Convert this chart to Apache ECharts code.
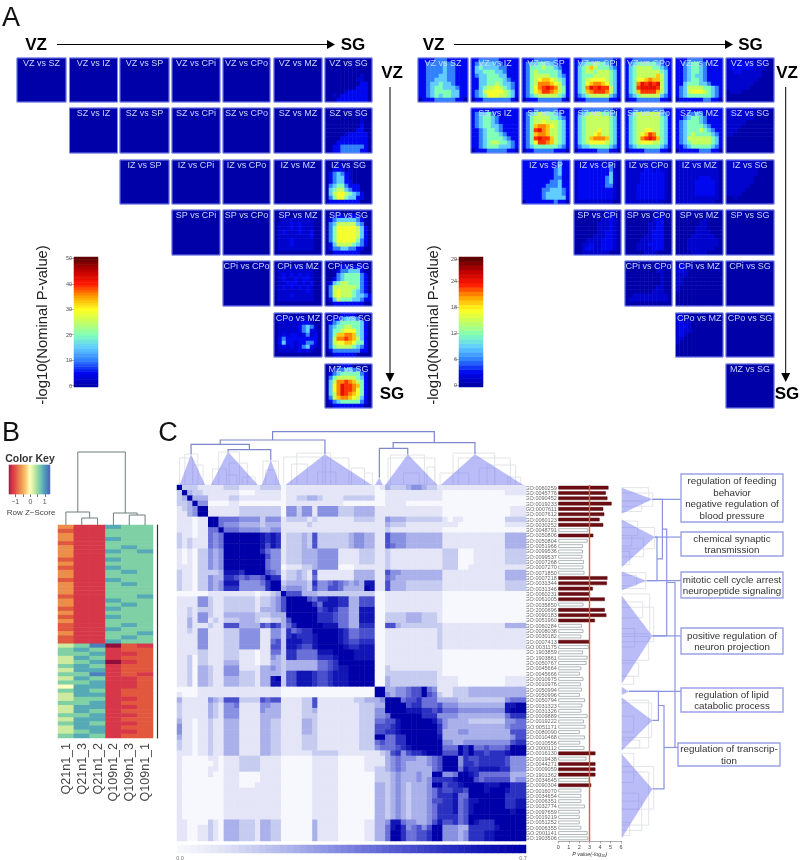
<!DOCTYPE html>
<html><head><meta charset="utf-8">
<style>html,body{margin:0;padding:0;background:#fff}#c{width:800px;height:860px;filter:blur(0.55px)}</style>
<script src="https://cdn.jsdelivr.net/npm/echarts@6/dist/echarts.min.js"></script>
</head><body><div id="c"></div>
<script>
// ---------- DATA ----------
const regions = ['VZ','SZ','IZ','SP','CPi','CPo','MZ','SG'];
const scaleTicksLeft = [0,10,20,30,40,50];
const scaleTicksRight = [0,6,12,18,24,29];
// RRHO panels: rows of colour-scale codes ('+' = faint); pairs not listed are flat navy.
const panelsLeft = {
 'VZ vs SG':['000000000000','000000000000','000000000000','000000000000','000000000+00','00000000++00','000000000110','000000001110','00000+111110','00+011111110','000111111110'],
 'SZ vs SG':['000000000000','000000000000','000000000+00','000000000+00','000000000100','000000001100','00000+111110','000011111110','000111111110','001122222210','001122222110'],
 'IZ vs SG':['000000000000','00++++000000','001110+00000','012321+00000','012331+00000','012331100000','023442111000','034553211000','035665432100','024664331100','011111111000'],
 'SP vs MZ':['000000000000','000000000000','00++++++++00','0+++1+1+++00','0+++1+1+++00','0+1+++1++100','0++++++++100','0+++1+++++00','0+++1+++++00','0+++++++++00','000000000000'],
 'SP vs SG':['000000000000','001111111000','012333332100','023555553200','024666665310','024666665310','024666665310','024666664210','013555543210','012233221100','001111111000'],
 'CPi vs MZ':['000000000000','00+++++++000','0+++++++++00','0+1+1+1+1+00','0+1++1+11+00','0++111+1+100','0+1+1+1+1+00','0+++++++1+00','0+++1+++++00','0+++++++++00','000000000000'],
 'CPi vs SG':['000000000000','000011111100','000122333100','000234444210','001234444210','013455444210','025555554210','025655543210','025655543321','013544433211','001111111100'],
 'CPo vs MZ':['000000000000','0+++++++++00','0++++++11+00','0+++++1232+0','0+++++1231+0','0+1+11+12+10','012111111110','01311+112210','0+1+1+1231+0','0+++++1+1+00','000000000000'],
 'CPo vs SG':['000011110000','001123332100','012344444310','023445544310','024456664310','024778874310','025889875310','025667764410','024555543210','012222222110','001111110000'],
 'MZ vs SG':['000011100000','001223322100','012344444210','024555554310','035889875410','0368a9987410','0368a9986410','0358a9876410','025788765310','012344444210','001111111100']
};
const panelsRight = {
 'VZ vs SZ':['111122211111','112222322111','112222322111','112222322111','112223322111','112233322111','112334332111','112344333211','112344443311','112343443311','011122222110'],
 'VZ vs IZ':['112222211111','123333221111','134333322111','133444332111','123344433111','113344443211','113344543321','113455654321','123566665431','123466655431','011222222210'],
 'VZ vs SP':['111222222111','123344332111','124445443211','124544444311','124555544321','124567765431','124588876531','124689a98541','124679987541','123455555431','011122222210'],
 'VZ vs CPi':['112222222211','123445443211','134575444321','134554555431','134445555431','134566665431','134678876431','1348a9a99531','134789998531','123455555321','011222222110'],
 'VZ vs CPo':['112222222211','123444443211','134555544321','134555555431','134555557531','134667877531','1348a9a9a531','1349aaaa9531','134799997531','123455555321','011222222110'],
 'VZ vs MZ':['111222211111','112344221111','112344321111','112344321111','112343321111','112344321111','113444332111','123555544321','123566654321','123444444321','011111122110'],
 'VZ vs SG':['++++++++++00','+111111+++00','+111111+++00','++11+++++000','+++++++++000','++++++++0000','+++++++00000','++++++000000','0+++00000000','000000000000','000000000000'],
 'SZ vs IZ':['111111111111','123342111111','123443211111','123443211111','123443321111','112344321111','112344432111','112344443211','112345544321','112344433321','011122222110'],
 'SZ vs SP':['111222222111','123455443211','124555544321','124556555431','124788765431','1249a8755431','124788755431','1249a9975431','124699875431','123444444321','011222221110'],
 'SZ vs CPi':['112222222211','123455544321','134555555431','134555555431','134555555431','134555655431','134556755431','134578887431','134566665431','123344444321','011111222110'],
 'SZ vs CPo':['112222222211','124555555321','134555555431','134555555431','134555555431','134556655431','134567985431','134589a97431','134566655431','123444444321','011112222110'],
 'SZ vs MZ':['111111111111','111223211111','112344321111','123444321111','123444432111','123444543211','123454444321','123555555431','123455555431','112344444321','011111222110'],
 'SZ vs SG':['++++++++0000','+11+++++0000','+++++++00000','+++++0000000','++++00000000','+++000000000','++0000000000','000000000000','000000000000','000000000000','000000000000'],
 'IZ vs SP':['111111111211','111111111311','111111112311','111111112311','111111112211','111111122311','111111222311','111112233321','111112333321','111112333331','011111112110'],
 'IZ vs CPi':['+++++++++1+0','+111111112+0','+111111112+0','+111111113+0','+111111123+0','+111111123+0','+111111122+0','+111111111+0','+111111111+0','+111111111+0','++++++++++00'],
 'IZ vs CPo':['+++++++++++0','++++++++1++0','+++++11+1++0','++++111111+0','++++111111+0','++++111111+0','+++1111111+0','+++1111111+0','+++1111111+0','+++1111111+0','++++++++++00'],
 'IZ vs MZ':['+++++++++++0','+++++++++++0','+++++++++++0','+++++++++++0','++++++111++0','+++++11111+0','+++++11111+0','+++++11111+0','+++++11111+0','+++++++++++0','++++++++++00'],
 'IZ vs SG':['+++++++++000','+++++++++000','++++++++0000','++++++++0000','+++++++00000','+++++++00000','++++++000000','+++++0000000','++++00000000','00+000000000','000000000000'],
 'SP vs CPi':['00000000+1+0','00000000+1+0','0000000++1+0','000000+++1+0','000000+++1+0','000000++11+0','00000+++11+0','000++++111+0','00++1++111+0','00+11++111+0','00+++++++000'],
 'SP vs CPo':['00000000++00','00000000+100','0000000+1100','000000++1100','000000++1100','000000+11100','00000++11100','0000+++11100','000+++111100','000++++11100','00000+++0000'],
 'SP vs MZ':['000000000000','000000000000','0000000+0000','000000++0000','00000+++0000','00000++++000','0000++++++00','000++++++++0','000++++++++0','000+++++++00','0000++++0000'],
 'CPi vs CPo':['000000000000','00000000+000','00000000++00','000000000+00','000000000+00','000000000+00','00000000++00','0000000+++00','00+++++++++0','0++++++++++0','000000000000'],
 'CPi vs MZ':['0+0000000000','+1++00000000','+1+000000000','+++000000000','++0000000000','++0000000000','+00000000000','+00000000000','000000000000','000000000000','000000000000'],
 'CPo vs MZ':['++0000000000','+1++00000000','+1++00000000','+11+00000000','+1++00000000','+1+000000000','++0000000000','+00000000000','000000000000','000000000000','000000000000']
};
const panelLevels = {'+':0.05,'0':0,'1':0.1,'2':0.2,'3':0.3,'4':0.4,'5':0.5,'6':0.58,'7':0.66,'8':0.72,'9':0.78,'a':0.84};
// Expression heat map (Z-score code, rows x samples)
const samples = ['Q21n1_1','Q21n1_3','Q21n1_2','Q109n1_2','Q109n1_3','Q109n1_1'];
const expressionRows = [
'311877','211777','311777','311877','211777','311787','311878','311777','211877','311777',
'211877','311787','311777','211877','311787','311777','311777','211778','311877','311787',
'211877','311777','211877','311777','211787','211877','311778','211787','211877',
'679021','787122','778112','687122','678012','787122','688122','779121','687112','778112',
'588112','787122','688122','677112','778122','688112','687122','778112','688122','787112',
'688122','678112','787122'
];
// GO term similarity: upper triangle from the diagonal, code x 0.7/9
const simUpper = [
"9222111112 2211112222 0111111111 1111111101 3222344322 1111111111 1111111",
"932211111 1100011111 0111111111 1111111100 1111111111 1000000000 0001111",
"93331111 2211111111 0112233211 1122222200 1111111111 1000000000 0000000",
"9440000 1100000000 0111111111 1100000000 1111000000 0000000000 0000000",
"991111 1122222222 0442441444 4222333311 1111111111 1000000000 0000111",
"91111 1122222222 0442441444 4222333311 1111111111 1000000000 0000111",
"9955 5544442444 1222212111 1111222211 4333222222 2101100000 0002222",
"954 4433332333 1111121111 1111111111 3222111111 1111000000 0001111",
"95 5544443344 1111111111 1111111111 2111111111 1000000000 0000000",
"9 9999998787 1222326222 2223443311 6444333333 3111111111 1113333",
"9999998787 1222326222 2223443311 6444333333 3111111111 1113333",
"999998687 1222326222 2223443311 6544333333 3111111111 1113333",
"99997544 1222333444 4111122211 2111111111 1222000111 1112222",
"9999644 1222333444 4111122211 2111111111 1222000111 1112222",
"999544 1222333444 4111122211 2111111111 1222000111 1112222",
"99544 0111223444 4000111111 2111111111 1222001111 1111111",
"9654 1223216111 1111333311 6443333333 3111111111 1113333",
"977 1223215111 1111333311 5433333333 3111111111 1113333",
"99 2333327445 6543438811 6333222222 2111111111 1112222",
"9 3444326446 6533339811 6333222222 2111111111 1112222",
"9666333222 2222222200 1111111111 1000000000 0000000",
"999965778 8773366600 1111111111 1000000000 0000000",
"99997588 8773366600 1111111111 1000000000 0000000",
"9999678 7553388800 1111111111 1000000000 0000000",
"999777 6553388800 2222333222 1000000000 0000000",
"99777 6553388800 2222333222 1000000000 0000000",
"9988 8553377700 6632222222 2111111111 1113333",
"999 9875566600 1111111111 2111111111 1111111",
"99 9875566600 1111111111 2111111111 1111111",
"9 9876677700 1111111111 2111111111 1111111",
"9987788800 1111111111 2111111111 1111111",
"999888800 1111111111 1000000000 0000000",
"99888800 1111111111 1000000000 0000000",
"9999900 1111111111 1000000000 0000000",
"999900 2111111111 1000000000 0000000",
"99900 2222222222 1000000000 0000000",
"9900 3222222222 1111000000 0001111",
"900 3222222222 1111000000 0001111",
"99 3344566954 1112223333 3333333",
"9 4344566965 2112223333 3333333",
"9995667555 3333222222 2224555",
"999677555 6444333333 3338899",
"99888776 7555444444 4448999",
"9999777 4444333333 3335777",
"999998 6433332222 2224455",
"99999 7433333333 3334555",
"9999 7333443333 3333666",
"999 8333333333 3333466",
"99 9443344444 4444677",
"9 9555979556 5556999",
"9666979776 7778999",
"999476677 7776444",
"99477677 7776444",
"9587788 8877444",
"998755 5555333",
"99656 6666344",
"9998 8899777",
"998 9998777",
"99 9997777",
"9 9997788",
"9997788",
"999899",
"99999",
"9999",
"999",
"99",
"9"
];
const goTerms = ['GO:0060259','GO:0045776','GO:0090452','GO:0019233','GO:0007611','GO:0007612','GO:0060123','GO:0030252','GO:0048791','GO:0050806','GO:0050804','GO:0051966','GO:0099536','GO:0099537','GO:0007268','GO:0007270','GO:0071850','GO:0007218','GO:0031344','GO:0031346','GO:0060231','GO:0061005','GO:0035850','GO:2000696','GO:0090183','GO:0051960','GO:0060284','GO:0008038','GO:0030182','GO:0007413','GO:0031175','GO:1903859','GO:1903861','GO:0050767','GO:0045664','GO:0045666','GO:0010975','GO:0010976','GO:0050994','GO:0050996','GO:0050794','GO:0031323','GO:0031326','GO:0009889','GO:0019222','GO:0051171','GO:0080090','GO:0010468','GO:0010556','GO:2000112','GO:0016130','GO:0019438','GO:0044271','GO:0009059','GO:1901362','GO:0034645','GO:0090304','GO:0016070','GO:0034654','GO:0006351','GO:0032774','GO:0097659','GO:0019219','GO:0051252','GO:0006355','GO:2001141','GO:1903506'];
const pValues = [4.8,4.55,4.7,5.1,4.3,4.4,3.95,4.3,2.85,3.35,2.8,2.35,2.35,2.3,2.45,2.4,2.5,4.7,4.65,3.3,3.0,4.45,2.4,4.45,4.6,3.5,2.25,2.4,2.2,3.0,2.9,2.35,2.8,2.7,2.2,2.05,2.4,2.15,2.25,2.05,2.55,2.3,2.2,2.8,2.45,2.6,2.05,2.55,2.1,2.5,3.55,2.7,3.55,3.55,3.55,2.95,3.15,2.2,2.2,2.2,2.55,2.05,2.05,2.05,2.2,2.8,2.85];
const pThreshold = 3;
// Dendrogram of GO terms: [leftPos, leftHeight, rightPos, rightHeight, mergeHeight]
const clusterPeaks = [[0.5,2.7,5.4,30.7],[6.5,9.8,15.5,33.3],[16.3,18,19.8,25],[20.8,28.4,37.4,30.7],[38,38.85,39.5,7.3],[40,44.3,50,30.7],[50.6,57.2,66.5,30.7]];
const mainMerges = [[9.8,33.3,18,25,35.3],[2.7,30.7,13.9,35.3,40.7],[8.3,40.7,28.4,30.7,45],[38.85,7.3,44.3,30.7,36.7],[41.5,36.7,57.2,30.7,42.3],[18.35,45,49.4,42.3,53.3]];
const fineMerges = [[0.5,0,3,0,27],[1.5,0,4,0,31],[3,0,5,0,20],[6.8,0,9.5,0,16],[8,0,12,0,33],[10,0,13.5,0,22],[9.5,0,11.5,0,10],[12.5,0,15,0,8],[16.5,0,19.5,0,24],[17,0,19,0,15],[20.5,0,28,0,28],[22,0,25,0,21],[23,0,29.5,0,32],[28.5,0,33,0,27],[27,0,30.5,0,13],[33.5,0,36,0,17],[36,0,37.5,0,12],[40.5,0,49.5,0,27],[41,0,47.5,0,30],[43.5,0,46.5,0,12],[48,0,49.5,0,18],[50.5,0,56,0,12],[53,0,61,0,32],[54,0,64,0,27],[59.5,0,65,0,20],[58,0,61,0,17],[63.5,0,66,0,8]];
const sampleMerges = [[1,0,2,0,7],[0,0,1.5,7,13],[4,0,5,0,10],[3,0,4.5,10,12],[0.75,13,3.75,12,73]];
const boxLinks = [[2.7,30.7,59],[9.8,33.3,59],[18,25,59],[28.4,30.7,59],[38.85,7.3,59.7],[49.4,42.3,56.7]];
const goBoxes = [
 {lines:['regulation of feeding','behavior','negative regulation of','blood pressure'],x:681,y:474,w:102,h:48},
 {lines:['chemical synaptic','transmission'],x:681,y:532,w:102,h:24},
 {lines:['mitotic cell cycle arrest','neuropeptide signaling'],x:681,y:572,w:102,h:26},
 {lines:['positive regulation of','neuron projection'],x:681,y:628,w:102,h:26},
 {lines:['regulation of lipid','catabolic process'],x:681,y:688,w:102,h:24},
 {lines:['regulation of transcrip-','tion'],x:678,y:743,w:102,h:23}
];
// ---------- BUILD ----------
const SANS='"Liberation Sans",Arial,sans-serif';
const rainbow=['#0000a8','#0008f0','#3080ff','#60ccff','#80ffb8','#c4ff60','#ffff20','#ffa000','#ff1800','#c00000','#600000'];
const spectral=['#8f0f3c','#d6384a','#e2583f','#ed8d48','#f9c46e','#ffffbf','#cdeb9f','#80d0a5','#55aab5','#4a80c0','#5e4fa2'];
const blues=['#f7f8fd','#e4e6f7','#c6cbf0','#aab0ea','#8890e2','#6a70d8','#4a50cc','#2a30c0','#1015b4','#0000a8'];
const grids=[],xA=[],yA=[],series=[],gfx=[];
const rbL=[],rbR=[],spec=[],blue=[];
function addGrid(x0,y0,x1,y1,xa,ya){const i=grids.length;grids.push({left:x0,top:y0,width:x1-x0,height:y1-y0,show:false});
 xA.push(Object.assign({gridIndex:i},xa));yA.push(Object.assign({gridIndex:i},ya));return i;}
const cat=(n,inv)=>({type:'category',data:Array.from({length:n},(_,i)=>i),show:false,inverse:!!inv});
const val=(min,max,inv)=>({type:'value',min,max,show:false,inverse:!!inv});
function heat(g,data,list){list.push(series.length);series.push({type:'heatmap',xAxisIndex:g,yAxisIndex:g,data,progressive:0,animation:false,silent:true,itemStyle:{borderWidth:0}});}
function text(t,x,y,o){gfx.push({type:'text',x,y,z:50,silent:true,rotation:(o&&o.rot)||0,style:Object.assign({text:t,font:`${(o&&o.weight)||'normal'} ${(o&&o.size)||10}px ${SANS}`,fill:(o&&o.fill)||'#222',align:(o&&o.align)||'center',verticalAlign:'middle'})});}
function line(x1,y1,x2,y2,c,w){gfx.push({type:'line',z:40,silent:true,shape:{x1,y1,x2,y2},style:{stroke:c,lineWidth:w}});}
function tri(pts,c){gfx.push({type:'polygon',z:40,silent:true,shape:{points:pts},style:{fill:c}});}
// Panel A
const rowY=[[58,102],[108,153],[160,204],[210,255],[261,306],[313,357],[364,408]];
const colL=[[17,66],[69.5,117.5],[120,169],[172,220],[223,270],[274,322],[325,372]];
const colR=[[418,468],[471,519],[522,570],[574,621],[625,672],[675.5,723],[726,774]];
function panelSet(cols,panels,max,list){
 for(let r=0;r<7;r++)for(let c=r;c<7;c++){
  const name=regions[r]+' vs '+regions[c+1];
  const rows=panels[name]||['0'];
  const nx=rows[0].length,ny=rows.length;
  const [x0,x1]=cols[c],[y0,y1]=rowY[r];
  const g=addGrid(x0,y0,x1,y1,cat(nx),cat(ny,true));
  const d=[];rows.forEach((s,j)=>[...s].forEach((ch,i)=>{d.push([i,j,panelLevels[ch]*max]);}));
  heat(g,d,list);
  gfx.push({type:'rect',z:30,silent:true,shape:{x:x0,y:y0,width:x1-x0,height:y1-y0},style:{fill:'none',stroke:'#7a88ee',lineWidth:1}});
  text(name,(x0+x1)/2,y0+5,{size:9,fill:'#c9d4ff'});
 }
}
panelSet(colL,panelsLeft,50,rbL);
panelSet(colR,panelsRight,29,rbR);
function scaleBar(x0,x1,max,ticks,list){
 const n=max+1,labels=Array.from({length:n},(_,i)=>i);
 const g=addGrid(x0,257,x1,387,{...cat(1)},{type:'category',data:labels,axisLine:{show:false},
  axisTick:{show:true,length:5,alignWithLabel:true,interval:i=>ticks.includes(i),lineStyle:{color:'#999',width:0.7}},
  axisLabel:{show:true,fontSize:5.5,color:'#555',margin:2,interval:i=>ticks.includes(i),fontFamily:SANS}});
 heat(g,labels.map(v=>[0,v,v]),list);
}
scaleBar(74,98,50,scaleTicksLeft,rbL);
scaleBar(459,483,29,scaleTicksRight,rbR);
text('-log10(Nominal P-value)',42,325,{size:14.8,rot:Math.PI/2,fill:'#222'});
text('-log10(Nominal P-value)',433,325,{size:14.8,rot:Math.PI/2,fill:'#222'});
[[36,57,335,353],[433.5,454,733,750.5]].forEach(a=>{
 text('VZ',a[0],44.5,{size:17,weight:'bold',fill:'#000'});
 line(a[1],44.5,a[2]-6,44.5,'#000',1);tri([[a[2]-8,40],[a[2],44.5],[a[2]-8,49]],'#000');
 text('SG',a[3],44.5,{size:17,weight:'bold',fill:'#000'});
});
[[390,392],[785.7,787]].forEach(a=>{
 text('VZ',a[1],72,{size:17,weight:'bold',fill:'#000'});
 line(a[0],87,a[0],376,'#000',1);tri([[a[0]-4.5,373],[a[0],382],[a[0]+4.5,373]],'#000');
 text('SG',a[1],393.5,{size:17,weight:'bold',fill:'#000'});
});
text('A',11,17,{size:27,fill:'#111'});
text('B',11,432,{size:27,fill:'#111'});
text('C',168,432,{size:27,fill:'#111'});
// Panel B
const gB=addGrid(58,525,153,738,{type:'category',data:samples,axisLine:{show:false},axisTick:{show:false},
  axisLabel:{rotate:90,interval:0,fontSize:12.5,color:'#444',margin:5,fontFamily:SANS}},
 {type:'category',data:expressionRows.map((_,i)=>i),inverse:true,position:'right',offset:4,
  axisLine:{show:true,lineStyle:{color:'#333',width:1.2}},axisTick:{show:false},axisLabel:{show:false}});
const dB=[];expressionRows.forEach((s,j)=>[...s].forEach((ch,i)=>dB.push([i,j,-1.5+(+ch)*0.3])));
heat(gB,dB,spec);
const keyZ=[];for(let z=-1.4;z<=1.34;z+=0.065)keyZ.push(+z.toFixed(3));
const keyTick=[-1,-0.5,0,0.5,1].map(v=>keyZ.reduce((b,z,i)=>Math.abs(z-v)<Math.abs(keyZ[b]-v)?i:b,0));
const keyLab=[-1,0,1].map(v=>keyZ.reduce((b,z,i)=>Math.abs(z-v)<Math.abs(keyZ[b]-v)?i:b,0));
const gKey=addGrid(9,465,50,494,{type:'category',data:keyZ,axisLine:{show:false},
  axisTick:{show:true,length:3,alignWithLabel:true,interval:i=>keyTick.includes(i),lineStyle:{color:'#333',width:0.7}},
  axisLabel:{show:true,interval:i=>keyLab.includes(i),fontSize:7,color:'#555',margin:4,fontFamily:SANS,
   formatter:v=>(+v<-0.5?'\u22121':(+v>0.5?'1':'0'))}},cat(1));
heat(gKey,keyZ.map((z,i)=>[i,0,z]),spec);
text('Color Key',30,458,{size:10.5,weight:'bold',fill:'#333'});
text('Row Z\u2212Score',31,512,{size:8,fill:'#444'});
function branches(g,data,color,width,flip,z){
 series.push({type:'custom',xAxisIndex:g,yAxisIndex:g,data,silent:true,z,animation:false,clip:false,
  renderItem:(p,api)=>{const P=(a,b)=>api.coord(flip?[b,a]:[a,b]);
   const [x1,h1,x2,h2,h]=[0,1,2,3,4].map(i=>api.value(i));
   return {type:'polyline',shape:{points:[P(x1,h1),P(x1,h),P(x2,h),P(x2,h2)]},style:{fill:null,stroke:color,lineWidth:width}};}});
}
const gBd=addGrid(58,452,153,525,{type:'value',min:-0.5,max:5.5,show:false},val(0,73));
branches(gBd,sampleMerges,'#6f7d7d',1,false,3);
// Panel C matrix
const N=goTerms.length;
const simRows=simUpper.map(s=>s.replace(/ /g,''));
simRows.forEach((s,i)=>{if(s.length!==N-i)console.warn('row',i,s.length,N-i);});
const dC=[];for(let i=0;i<N;i++)for(let j=0;j<N;j++){const a=Math.min(i,j),b=Math.max(i,j);
  const ch=simRows[a][b-a]||'0';dC.push([j,i,(+ch)*0.7/9]);}
const gC=addGrid(177,485,526,841,cat(N),cat(N,true));
heat(gC,dC,blue);
const barN=[];for(let i=0;i<=50;i++)barN.push(i*0.014);
const gCk=addGrid(177,845,526,853,cat(barN.length),cat(1));
heat(gCk,barN.map((v,i)=>[i,0,v]),blue);
text('0.0',180,858,{size:5.5,fill:'#777'});text('0.7',523,858,{size:5.5,fill:'#777'});
// Bars
const gBar=addGrid(558.3,485,621,841,{type:'value',min:0,max:6,interval:1,splitLine:{show:false},
  axisLine:{show:true,lineStyle:{color:'#777',width:0.6}},axisTick:{show:true,length:2.5,lineStyle:{color:'#777',width:0.6}},
  axisLabel:{fontSize:5.5,color:'#444',margin:2.5,fontFamily:SANS},
  name:'P value(-log\u2081\u2080)',nameLocation:'middle',nameGap:10,nameTextStyle:{fontSize:5.5,color:'#333',fontStyle:'italic',fontFamily:SANS}},
 {type:'category',data:goTerms,inverse:true,axisLine:{show:false},axisTick:{show:false},
  axisLabel:{interval:0,fontSize:5.5,color:'#666',margin:1.5,fontFamily:SANS,hideOverlap:false}});
series.push({type:'bar',xAxisIndex:gBar,yAxisIndex:gBar,barWidth:3.6,animation:false,silent:true,
 data:pValues.map(v=>({value:v,itemStyle:v>=pThreshold?{color:'#6b0d12',borderColor:'#5a0a0e',borderWidth:0.5}:{color:'#fff',borderColor:'#8d9b9b',borderWidth:0.7}})),
 markLine:{silent:true,symbol:'none',label:{show:false},lineStyle:{color:'#d8605c',width:1.4,type:'solid'},data:[{xAxis:pThreshold}]}});
// Dendrograms (shared structure, top and right)
function triangles(g,flip){
 series.push({type:'custom',xAxisIndex:g,yAxisIndex:g,data:clusterPeaks,silent:true,z:4,animation:false,clip:false,
  renderItem:(p,api)=>{const P=(a,b)=>api.coord(flip?[b,a]:[a,b]);
   return {type:'polygon',shape:{points:[P(api.value(0),0),P(api.value(1),api.value(3)),P(api.value(2),0)]},style:{fill:'rgba(110,115,240,0.48)'}};}});
}
const gTop=addGrid(177,425,526,485,val(0,N),val(0,60));
branches(gTop,fineMerges,'#e2e4e8',1,false,3);triangles(gTop,false);branches(gTop,mainMerges,'#7d88cc',1.2,false,5);
const gRight=addGrid(621.7,485,800,841,val(0,178.3),val(0,N,true));
branches(gRight,fineMerges,'#e2e4e8',1,true,3);triangles(gRight,true);branches(gRight,mainMerges,'#8a94e0',1.2,true,5);
series.push({type:'custom',xAxisIndex:gRight,yAxisIndex:gRight,data:boxLinks,silent:true,z:5,animation:false,clip:false,
 renderItem:(p,api)=>({type:'line',shape:{x1:api.coord([api.value(1),api.value(0)])[0],y1:api.coord([api.value(1),api.value(0)])[1],x2:api.coord([api.value(2),api.value(0)])[0],y2:api.coord([api.value(2),api.value(0)])[1]},style:{stroke:'#8a94e0',lineWidth:1.2}})});
goBoxes.forEach(b=>{
 gfx.push({type:'rect',z:30,silent:true,shape:{x:b.x,y:b.y,width:b.w,height:b.h},style:{fill:'#fff',stroke:'#9aa2e6',lineWidth:1.4}});
 const lh=11.6,y0=b.y+b.h/2-(b.lines.length-1)*lh/2;
 b.lines.forEach((t,i)=>text(t,b.x+b.w/2,y0+i*lh,{size:9.8,fill:'#333'}));
});
const chart=echarts.init(document.getElementById('c'),null,{renderer:'svg',width:800,height:860});
chart.setOption({animation:false,backgroundColor:'#fff',textStyle:{fontFamily:SANS},grid:grids,xAxis:xA,yAxis:yA,series,graphic:{elements:gfx},
 visualMap:[
  {type:'continuous',show:false,min:0,max:50,seriesIndex:rbL,dimension:2,inRange:{color:rainbow}},
  {type:'continuous',show:false,min:0,max:29,seriesIndex:rbR,dimension:2,inRange:{color:rainbow}},
  {type:'continuous',show:false,min:-1.5,max:1.5,seriesIndex:spec,dimension:2,inRange:{color:spectral}},
  {type:'continuous',show:false,min:0,max:0.7,seriesIndex:blue,dimension:2,inRange:{color:blues}}
 ]});
</script></body></html>
